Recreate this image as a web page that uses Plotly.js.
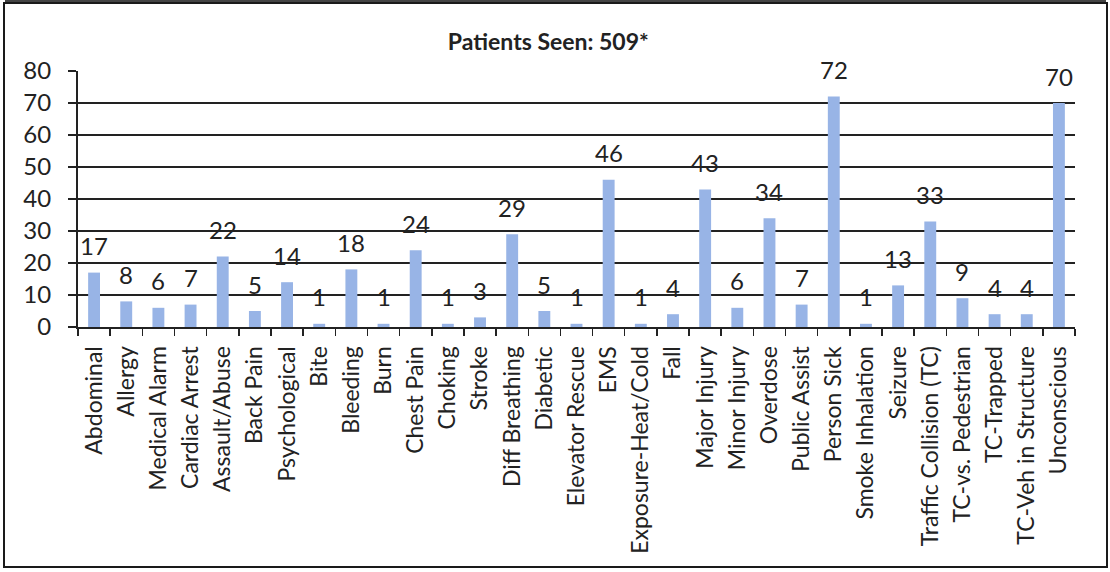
<!DOCTYPE html>
<html><head><meta charset="utf-8">
<script src="https://cdn.plot.ly/plotly-3.0.1.min.js"></script>
<style>
html,body{margin:0;padding:0;background:#fff;}
#wrap{position:relative;width:1110px;height:572px;}
#frame{position:absolute;left:3px;top:2px;width:1101px;height:562px;border:2px solid #1a1a1a;box-shadow:0 -4px 0 -2px #444;pointer-events:none;}
#chart{position:absolute;left:0;top:0;width:1110px;height:572px;}
</style></head>
<body><div id="wrap"><div id="chart"></div><div id="frame"></div></div>
<script>
const categories = ["Abdominal","Allergy","Medical Alarm","Cardiac Arrest","Assault/Abuse","Back Pain","Psychological","Bite","Bleeding","Burn","Chest Pain","Choking","Stroke","Diff Breathing","Diabetic","Elevator Rescue","EMS","Exposure-Heat/Cold","Fall","Major Injury","Minor Injury","Overdose","Public Assist","Person Sick","Smoke Inhalation","Seizure","Traffic Collision (TC)","TC-vs. Pedestrian","TC-Trapped","TC-Veh in Structure","Unconscious"];
const patients = [17,8,6,7,22,5,14,1,18,1,24,1,3,29,5,1,46,1,4,43,6,34,7,72,1,13,33,9,4,4,70];
const yTicks = [0,10,20,30,40,50,60,70,80];
const titleText = "Patients Seen: 509*";

const FONT = "Lato, 'Liberation Sans', Arial, sans-serif";
const trace = {
  type: "bar", x: categories, y: patients,
  marker: {color: "#98b4e6"}, hoverinfo: "x+y"
};
const annotations = categories.map((c, i) => ({
  x: c, y: patients[i], xref: "x", yref: "y",
  text: String(patients[i]), showarrow: false,
  yanchor: "middle", yshift: 27,
  font: {family: FONT, size: 24, color: "#222"}
}));
const layout = {
  width: 1110, height: 572,
  margin: {l: 78, r: 35, t: 71, b: 245, pad: 0},
  paper_bgcolor: "#fff", plot_bgcolor: "#fff",
  bargap: 0.63, showlegend: false,
  title: {text: "<b>" + titleText + "</b>", x: 0.494, xanchor: "center", y: 0.927, yanchor: "middle",
          font: {family: FONT, size: 23, color: "#222"}},
  xaxis: {
    type: "category", tickangle: -90, tickson: "boundaries",
    ticks: "outside", ticklen: 7, tickwidth: 1.5, tickcolor: "#222",
    showline: true, linecolor: "#222", linewidth: 2,
    showgrid: false, ticklabelstandoff: 8,
    tickfont: {family: FONT, size: 23, color: "#222"}
  },
  yaxis: {
    range: [0, 80], tickvals: yTicks, ticktext: yTicks.map(String),
    ticks: "outside", ticklen: 8, tickwidth: 1.5, tickcolor: "#222",
    showline: true, linecolor: "#222", linewidth: 2,
    showgrid: true, gridcolor: "#222", gridwidth: 1.5,
    zeroline: false, ticklabelstandoff: 12,
    tickfont: {family: FONT, size: 24, color: "#222"}
  },
  annotations: annotations
};
Plotly.newPlot("chart", [trace], layout, {displayModeBar: false, staticPlot: true});
</script></body></html>
